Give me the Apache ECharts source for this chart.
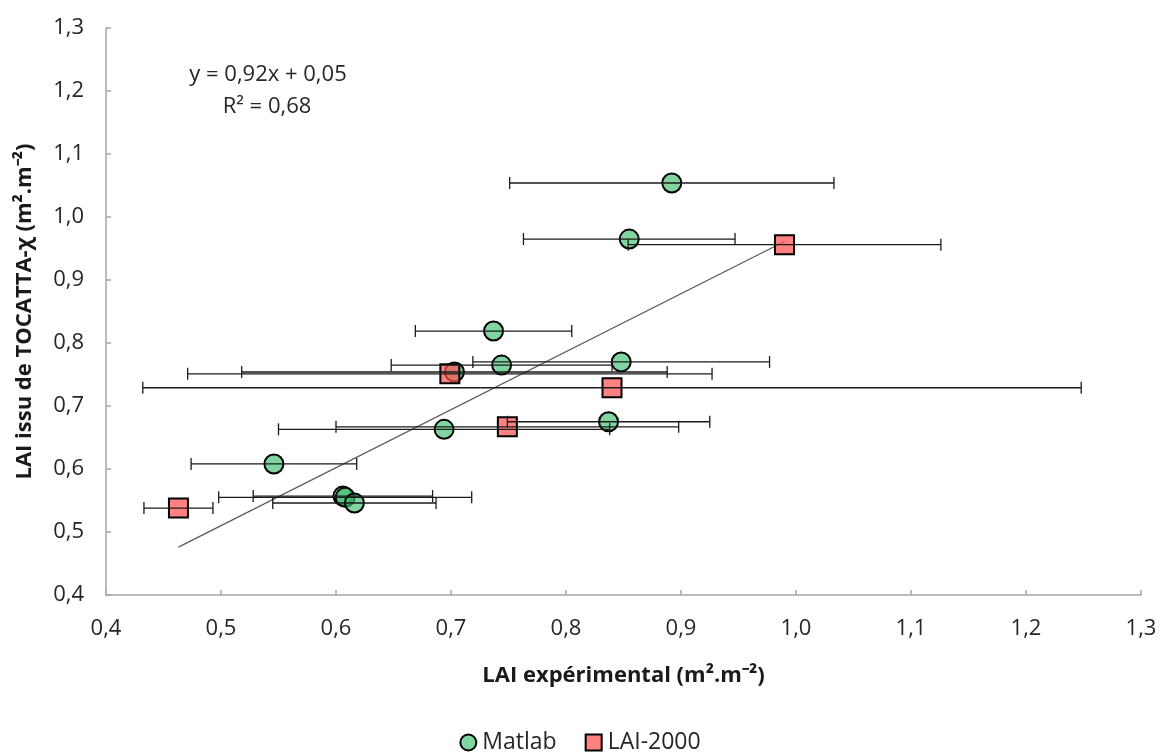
<!DOCTYPE html>
<html>
<head>
<meta charset="utf-8">
<script src="https://cdn.jsdelivr.net/npm/echarts@6/dist/echarts.min.js"></script>
<style>html,body{margin:0;padding:0;background:#fff}#c{width:1160px;height:753px}</style>
</head>
<body>
<div id="c"></div>
<script>
// ---- data ----
const matlabX   = [0.892, 0.855, 0.737, 0.744, 0.848, 0.703, 0.837, 0.694, 0.546, 0.606, 0.608, 0.616];
const matlabY   = [1.054, 0.965, 0.819, 0.765, 0.770, 0.754, 0.675, 0.663, 0.608, 0.557, 0.555, 0.546];
const matlabErr = [0.141, 0.092, 0.068, 0.096, 0.129, 0.185, 0.088, 0.144, 0.072, 0.078, 0.110, 0.071];

const laiX   = [0.990, 0.699, 0.840, 0.749, 0.463];
const laiY   = [0.956, 0.751, 0.729, 0.667, 0.538];
const laiErr = [0.136, 0.228, 0.408, 0.149, 0.030];

const trendX = [0.463, 0.990];
const trendY = [0.476, 0.961];

const xTicks = [0.4, 0.5, 0.6, 0.7, 0.8, 0.9, 1.0, 1.1, 1.2, 1.3];
const yTicks = [0.4, 0.5, 0.6, 0.7, 0.8, 0.9, 1.0, 1.1, 1.2, 1.3];

const equationText = 'y = 0,92x + 0,05';
const r2Text = 'R² = 0,68';
// ---------------------------------------

const FONT = 'Open Sans';
const fmt = v => v.toFixed(1).replace('.', ',');

function pts(xs, ys) { return xs.map((x, i) => [x, ys[i]]); }
function errs(xs, ys, es) { return xs.map((x, i) => [x - es[i], ys[i], x + es[i]]); }

function errRender(params, api) {
  const lo = api.coord([api.value(0), api.value(1)]);
  const hi = api.coord([api.value(2), api.value(1)]);
  const h = 6;
  const st = { stroke: '#1a1a1a', lineWidth: 1.3 };
  return {
    type: 'group',
    children: [
      { type: 'line', shape: { x1: lo[0], y1: lo[1], x2: hi[0], y2: hi[1] }, style: st },
      { type: 'line', shape: { x1: lo[0], y1: lo[1] - h, x2: lo[0], y2: lo[1] + h }, style: st },
      { type: 'line', shape: { x1: hi[0], y1: hi[1] - h, x2: hi[0], y2: hi[1] + h }, style: st }
    ]
  };
}

const axisCommon = {
  type: 'value',
  interval: 0.1,
  splitLine: { show: false },
  axisLine: { show: true, lineStyle: { color: '#a6a6a6', width: 1.5 } },
  axisTick: { show: true, inside: true, length: 5, lineStyle: { color: '#a6a6a6', width: 1.5 } },
  axisLabel: { color: '#262626', fontSize: 22, fontFamily: FONT, margin: 23, formatter: fmt },
  nameLocation: 'middle',
  nameTextStyle: { color: '#1a1a1a', fontSize: 22, fontWeight: 'bold', fontFamily: FONT }
};

const chart = echarts.init(document.getElementById('c'), null, { renderer: 'canvas' });
chart.setOption({
  animation: false,
  backgroundColor: '#ffffff',
  grid: { left: 106, right: 19, top: 28, bottom: 158, containLabel: false },
  xAxis: Object.assign({}, axisCommon, {
    min: xTicks[0], max: xTicks[xTicks.length - 1],
    name: 'LAI expérimental (m².m⁻²)',
    nameGap: 70
  }),
  yAxis: Object.assign({}, axisCommon, {
    min: yTicks[0], max: yTicks[yTicks.length - 1],
    name: 'LAI issu de TOCATTA-χ (m².m⁻²)',
    nameGap: 70,
    axisLabel: Object.assign({}, axisCommon.axisLabel, { margin: 22 })
  }),
  legend: {
    data: ['Matlab', 'LAI-2000'],
    left: 'center',
    top: 726,
    itemWidth: 16,
    itemHeight: 16,
    itemGap: 28,
    textStyle: { color: '#262626', fontSize: 23, fontFamily: FONT, padding: [0, 0, 0, 1] }
  },
  graphic: [
    { type: 'text', x: 268, y: 75, style: { text: equationText, align: 'center', verticalAlign: 'middle', fill: '#262626', font: '22px "Open Sans"' } },
    { type: 'text', x: 267, y: 107, style: { text: r2Text, align: 'center', verticalAlign: 'middle', fill: '#262626', font: '22px "Open Sans"' } }
  ],
  series: [
    {
      name: 'Tendance',
      type: 'line',
      data: pts(trendX, trendY),
      symbol: 'none',
      lineStyle: { color: '#595959', width: 1.2 },
      z: 2,
      silent: true
    },
    {
      name: 'Matlab',
      type: 'scatter',
      data: pts(matlabX, matlabY),
      symbol: 'circle',
      symbolSize: 19,
      itemStyle: { color: 'rgba(60,190,110,0.66)', borderColor: '#000', borderWidth: 2, opacity: 1 },
      z: 3
    },
    {
      name: 'LAI-2000',
      type: 'scatter',
      data: pts(laiX, laiY),
      symbol: 'rect',
      symbolSize: 19,
      itemStyle: { color: 'rgba(255,80,80,0.72)', borderColor: '#000', borderWidth: 2, opacity: 1 },
      z: 4
    },
    {
      name: 'errMatlab',
      type: 'custom',
      renderItem: errRender,
      data: errs(matlabX, matlabY, matlabErr),
      encode: { x: [0, 2], y: 1 },
      z: 5,
      silent: true
    },
    {
      name: 'errLAI',
      type: 'custom',
      renderItem: errRender,
      data: errs(laiX, laiY, laiErr),
      encode: { x: [0, 2], y: 1 },
      z: 5,
      silent: true
    }
  ]
});
</script>
</body>
</html>
